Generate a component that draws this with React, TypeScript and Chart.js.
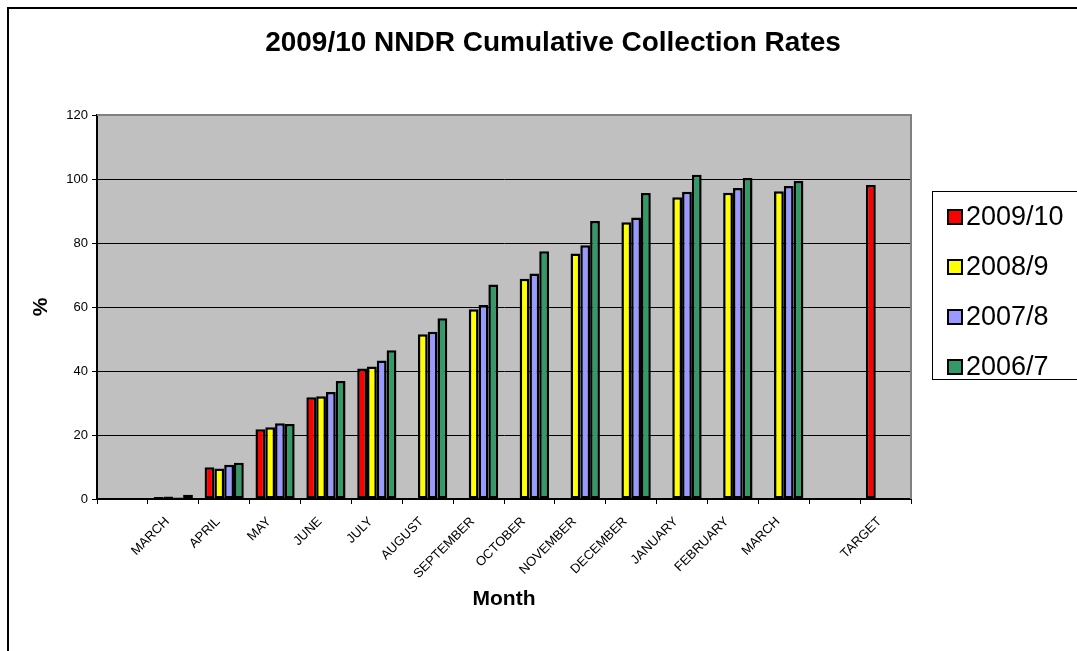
import React, { useEffect, useRef } from "react";
import { Chart, registerables } from "chart.js";

Chart.register(...registerables);

const categories = [
  "", "MARCH", "APRIL", "MAY", "JUNE", "JULY", "AUGUST", "SEPTEMBER", "OCTOBER",
  "NOVEMBER", "DECEMBER", "JANUARY", "FEBRUARY", "MARCH", "", "TARGET",
];
const s2009_10 = [null, 0.6, 9.9, 21.8, 31.8, 40.8, null, null, null, null, null, null, null, null, null, 98.1];
const s2008_9 = [null, 0.8, 9.5, 22.4, 32.1, 41.4, 51.5, 59.3, 68.8, 76.7, 86.5, 94.3, 95.7, 96.2, null, null];
const s2007_8 = [null, 0.5, 10.7, 23.7, 33.4, 43.3, 52.3, 60.6, 70.5, 79.3, 88.0, 96.0, 97.2, 97.8, null, null];
const s2006_7 = [null, 1.3, 11.3, 23.4, 36.9, 46.5, 56.5, 67.0, 77.4, 86.9, 95.6, 101.3, 100.3, 99.4, null, null];
const seriesLabels = ["2009/10", "2008/9", "2007/8", "2006/7"];
const seriesColors = ["#FF0000", "#FFFF00", "#9999FF", "#339966"];
const yTicks = [0, 20, 40, 60, 80, 100, 120];
const chartTitle = "2009/10 NNDR Cumulative Collection Rates";

const FONT = "'Liberation Sans', Arial, Helvetica, sans-serif";

const decorPlugin = {
  id: "decor",
  beforeDraw(chart: any) {
    const { ctx, chartArea: a } = chart;
    ctx.save();
    ctx.fillStyle = "#ffffff";
    ctx.fillRect(0, 0, chart.width, chart.height);
    ctx.strokeStyle = "#000";
    ctx.lineWidth = 2;
    ctx.strokeRect(8, 8, chart.width + 40, chart.height + 40);
    ctx.fillStyle = "#C0C0C0";
    ctx.fillRect(a.left, a.top, a.right - a.left, a.bottom - a.top);
    ctx.fillStyle = "#000";
    ctx.font = `bold 28px ${FONT}`;
    ctx.textAlign = "center";
    ctx.textBaseline = "middle";
    ctx.fillText(chartTitle, 553, 43);
    ctx.restore();
  },
  afterDraw(chart: any) {
    const { ctx, chartArea: a } = chart;
    ctx.save();
    ctx.strokeStyle = "#808080";
    ctx.lineWidth = 2;
    ctx.beginPath();
    ctx.moveTo(a.left, a.top);
    ctx.lineTo(a.right, a.top);
    ctx.lineTo(a.right, a.bottom);
    ctx.stroke();
    // legend
    ctx.strokeStyle = "#000";
    ctx.lineWidth = 1;
    ctx.strokeRect(932.5, 191.5, 200, 188);
    chart.data.datasets.forEach((ds: any, i: number) => {
      const yc = 217 + i * 50;
      ctx.fillStyle = ds.backgroundColor;
      ctx.fillRect(948, yc - 7, 14, 14);
      ctx.lineWidth = 2;
      ctx.strokeStyle = "#000";
      ctx.strokeRect(948, yc - 7, 14, 14);
      ctx.fillStyle = "#000";
      ctx.font = `27px ${FONT}`;
      ctx.textBaseline = "middle";
      ctx.textAlign = "left";
      ctx.fillText(ds.label, 966, yc + 1);
    });
    ctx.restore();
  },
};

export default function App() {
  const ref = useRef<HTMLCanvasElement>(null);
  useEffect(() => {
    const series = [s2009_10, s2008_9, s2007_8, s2006_7];
    const chart = new Chart(ref.current as HTMLCanvasElement, {
      type: "bar",
      data: {
        labels: categories,
        datasets: series.map((d, i) => ({
          label: seriesLabels[i],
          data: d,
          backgroundColor: seriesColors[i],
          borderColor: "#000",
          borderWidth: 2.5,
          borderSkipped: false,
          categoryPercentage: 0.77,
          barPercentage: 1.0,
        })),
      },
      options: {
        responsive: false,
        animation: false,
        layout: { padding: { left: 0, right: 166, top: 115, bottom: 0 } },
        font: { family: FONT },
        plugins: {
          legend: { display: false },
          tooltip: { enabled: false },
          title: { display: false },
        },
        scales: {
          x: {
            offset: true,
            grid: {
              offset: true,
              drawOnChartArea: false,
              drawTicks: true,
              tickLength: 5,
              tickColor: "#000",
              tickWidth: 1,
            },
            border: { display: true, color: "#000", width: 2 },
            ticks: {
              autoSkip: false,
              maxRotation: 45,
              minRotation: 45,
              padding: 10,
              labelOffset: -6,
              color: "#000",
              font: { family: FONT, size: 13 },
            },
            title: {
              display: true,
              text: "Month",
              color: "#000",
              font: { family: FONT, size: 21, weight: "bold" },
              padding: { top: 0, bottom: 39 },
            },
            afterFit(scale: any) {
              scale.height = 152;
            },
          },
          y: {
            min: 0,
            max: 120,
            afterBuildTicks(scale: any) {
              scale.ticks = yTicks.map((v) => ({ value: v }));
            },
            grid: {
              color: (c: any) => (c.tick && (c.tick.value === 0 || c.tick.value === 120) ? "rgba(0,0,0,0)" : "#000"),
              lineWidth: 1,
              drawTicks: true,
              tickLength: 5,
              tickColor: "#000",
            },
            border: { display: true, color: "#000", width: 2 },
            ticks: {
              padding: 4,
              color: "#000",
              font: { family: FONT, size: 13 },
            },
            title: {
              display: true,
              text: "%",
              color: "#000",
              font: { family: FONT, size: 21, weight: "bold" },
              padding: { top: 29, bottom: 0 },
            },
            afterFit(scale: any) {
              scale.width = 97;
            },
          },
        },
      },
      plugins: [decorPlugin],
    });
    return () => chart.destroy();
  }, []);
  return (
    <div style={{ position: "fixed", left: 0, top: 0, width: 1077, height: 651 }}>
      <canvas ref={ref} width={1077} height={651} style={{ display: "block" }} />
    </div>
  );
}
